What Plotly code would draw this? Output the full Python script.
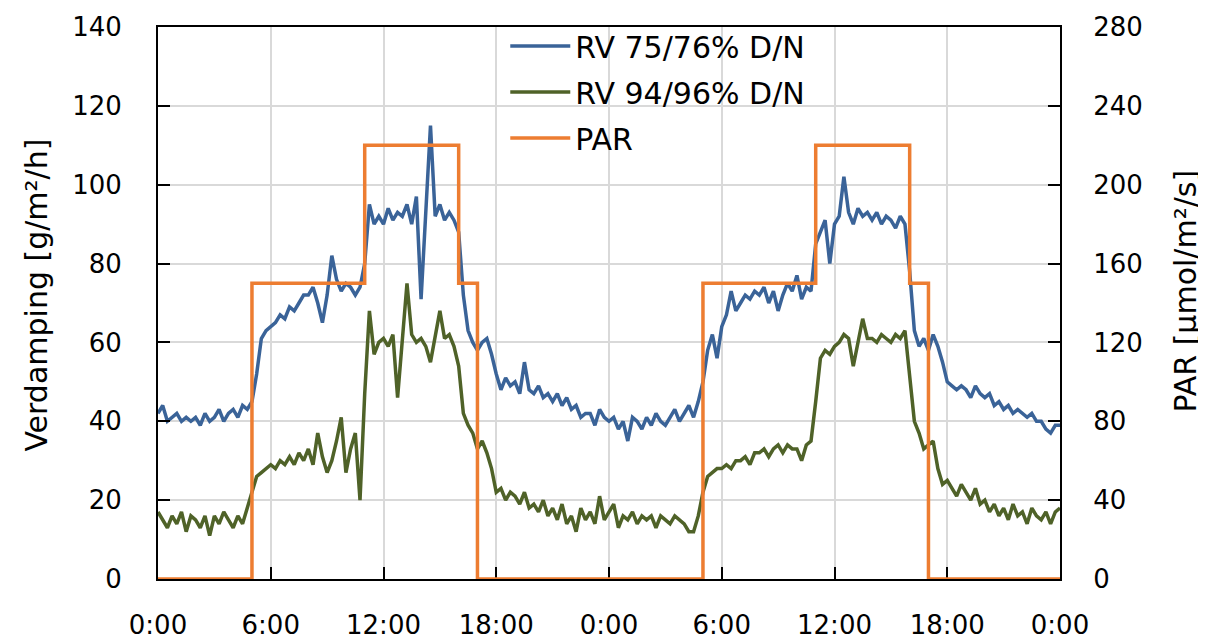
import plotly.graph_objects as go

# Time in hours (15-minute samples over two days)
hours_step = 0.25
rv75 = [
    42, 44, 40, 41, 42, 40, 41, 40, 41, 39, 42, 40, 41, 43, 40, 42, 43, 41, 44, 43,
    45, 52, 61, 63, 64, 65, 67, 66, 69, 68, 70, 72, 72, 74, 70, 65, 72, 82, 76, 73,
    75, 74, 72, 74, 80, 95, 90, 92, 90, 94, 91, 93, 92, 95, 90, 97, 71, 95, 115, 92,
    95, 91, 93, 91, 88, 72, 63, 60, 58, 60, 61, 57, 52, 48, 51, 49, 50, 47, 55, 48,
    47, 49, 46, 47, 45, 47, 44, 46, 43, 44, 41, 42, 42, 39, 43, 41,
    40, 41, 38, 40, 35, 41, 40, 38, 41, 39, 42, 40, 39, 41, 43, 40, 42, 44, 41, 45,
    50, 58, 62, 56, 64, 67, 73, 68, 70, 72, 71, 73, 72, 74, 70, 73, 68, 72, 75, 73,
    77, 71, 74, 73, 85, 88, 91, 80, 90, 92, 102, 93, 90, 94, 92, 93, 91, 93, 90, 92,
    91, 89, 92, 90, 78, 63, 59, 61, 58, 62, 59, 55, 50, 49, 48, 49, 48, 46, 49, 47,
    46, 47, 44, 45, 43, 44, 42, 43, 42, 41, 42, 40, 40, 38, 37, 39, 39,
]
rv94 = [
    17, 15, 13, 16, 14, 17, 12, 16, 15, 13, 16, 11, 16, 14, 17, 15, 13, 16, 14, 18,
    22, 26, 27, 28, 29, 28, 30, 29, 31, 29, 32, 30, 33, 29, 37, 31, 27, 30, 35, 41,
    27, 33, 37, 20, 47, 68, 57, 60, 61, 59, 62, 46, 60, 75, 62, 60, 61, 59, 55, 62,
    68, 61, 62, 59, 54, 42, 39, 37, 33, 35, 32, 28, 22, 23, 20, 22, 21, 19, 22, 18,
    19, 17, 20, 16, 18, 15, 19, 14, 16, 12, 18, 15, 17, 14, 21, 15,
    17, 19, 13, 16, 15, 17, 14, 16, 15, 16, 13, 16, 15, 14, 16, 15, 14, 12, 12, 16,
    22, 26, 27, 28, 28, 29, 28, 30, 30, 31, 29, 32, 32, 33, 31, 33, 34, 32, 34, 33,
    33, 30, 34, 35, 45, 56, 58, 57, 59, 60, 62, 61, 54, 60, 66, 61, 61, 60, 62, 61,
    60, 62, 61, 63, 51, 40, 37, 33, 34, 35, 28, 24, 25, 23, 21, 24, 22, 20, 23, 19,
    20, 17, 19, 16, 18, 15, 19, 16, 17, 14, 18, 16, 15, 17, 14, 17, 18,
]
par_hours = [0, 5, 11, 16, 17, 29, 35, 40, 41, 48]
par_values = [0, 150, 220, 150, 0, 150, 220, 150, 0, 0]

tick_hours = [0, 6, 12, 18, 24, 30, 36, 42, 48]
tick_labels = ["0:00", "6:00", "12:00", "18:00", "0:00", "6:00", "12:00", "18:00", "0:00"]

t = [i * hours_step for i in range(len(rv75))]

FONT = "DejaVu Sans"
fig = go.Figure()
fig.add_trace(go.Scatter(x=t, y=rv75, mode="lines", name="RV 75/76% D/N",
                         line=dict(color="#3A6398", width=3.5), legendgroup="a"))
fig.add_trace(go.Scatter(x=t, y=rv94, mode="lines", name="RV 94/96% D/N",
                         line=dict(color="#4F6228", width=3.5), legendgroup="b"))
fig.add_trace(go.Scatter(x=par_hours, y=par_values, mode="lines", name="PAR",
                         line=dict(color="#ED7D31", width=3.5, shape="hv"),
                         yaxis="y2", legendgroup="c"))

axis_common = dict(showline=True, linecolor="black", linewidth=2,
                   ticks="inside", ticklen=12, tickwidth=2, tickcolor="black",
                   zeroline=False, automargin=False,
                   tickfont=dict(family=FONT, size=26, color="black"))

fig.update_layout(
    width=1206, height=643,
    margin=dict(l=150, r=154, t=16, b=72),
    paper_bgcolor="white", plot_bgcolor="white",
    font=dict(family=FONT, size=26, color="black"),
    showlegend=True,
    legend=dict(x=0.385, y=1.0126, xanchor="left", yanchor="top",
                bgcolor="rgba(0,0,0,0)", traceorder="grouped", tracegroupgap=4,
                font=dict(family=FONT, size=30), itemwidth=60),
    xaxis=dict(range=[0, 48], tickvals=tick_hours, ticktext=tick_labels,
               showgrid=True, gridcolor="#D9D9D9", gridwidth=1.5, mirror=True,
               layer="below traces", ticklabelstandoff=22, **axis_common),
    yaxis=dict(range=[0, 140], dtick=20, showgrid=True, gridcolor="#D9D9D9", gridwidth=1.5,
               ticklabelstandoff=29, **axis_common),
    yaxis2=dict(range=[0, 280], dtick=40, overlaying="y", side="right", showgrid=False,
                ticklabelstandoff=26, **axis_common),
    annotations=[
        dict(text="Verdamping [g/m²/h]", xref="paper", yref="paper", x=-0.1341, y=0.5135,
             xanchor="center", yanchor="middle", textangle=-90, showarrow=False,
             font=dict(family=FONT, size=30, color="black")),
        dict(text="PAR [µmol/m²/s]", xref="paper", yref="paper", x=1.1386, y=0.521,
             xanchor="center", yanchor="middle", textangle=-90, showarrow=False,
             font=dict(family=FONT, size=30, color="black")),
    ],
)

fig.write_html("out.html")
